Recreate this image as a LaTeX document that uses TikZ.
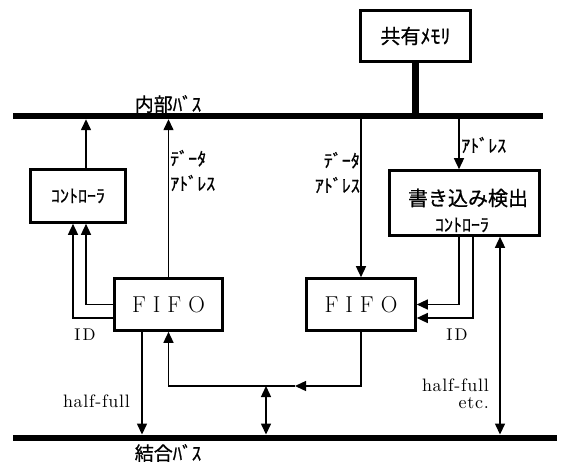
\documentclass[tikz,border=0pt]{standalone}
\usepackage{fontspec}
\usepackage{tikz}
\usetikzlibrary{arrows.meta}
\newfontfamily\jpfont[FakeBold=0.8]{Noto Sans CJK JP}
\newfontfamily\lmten{lmroman10-regular}[Extension=.otf]
\tikzset{
  blknode/.style={draw,line width=2.6pt,inner sep=0pt,
    font=\fontsize{18}{20}\selectfont\jpfont},
  busnode/.style={fill=black,inner sep=0pt,minimum height=6pt},
  jplabel/.style={font=\fontsize{18}{25}\selectfont\jpfont,inner sep=0pt},
  enlabel/.style={font=\lmten\fontsize{18}{17}\selectfont\addfontfeature{LetterSpace=4},inner sep=0pt},
  idlabel/.style={font=\lmten\fontsize{17}{17}\selectfont\addfontfeature{LetterSpace=12},inner sep=0pt},
  fifolbl/.style={font=\fontsize{23}{23}\selectfont},
  edgeA/.style={line width=1.4pt,-{Triangle[length=11pt,width=10pt]}},
  edgeB/.style={line width=1.4pt,{Triangle[length=11pt,width=10pt]}-{Triangle[length=11pt,width=10pt]}},
}
\begin{document}
\begin{tikzpicture}[x=1pt,y=-1pt]
  \useasboundingbox (0,0) rectangle (561,463);
  \node[busnode,minimum width=530pt] (ibus) at (278,116) {};
  \node[busnode,minimum width=544pt,minimum height=6.5pt] (cbus) at (285,438) {};
  \node[jplabel,font=\fontsize{19}{21}\selectfont\jpfont] (ibuslbl) at (168,104) {内部ﾊﾞｽ};
  \node[jplabel,font=\fontsize{19}{21}\selectfont\jpfont] (cbuslbl) at (168,453) {結合ﾊﾞｽ};
  \node[blknode,minimum width=110pt,minimum height=51pt,font=\fontsize{20}{22}\selectfont\jpfont] (mem) at (415.5,36) {共有ﾒﾓﾘ};
  \node[blknode,minimum width=95pt,minimum height=53pt] (ctl) at (78,196) {ｺﾝﾄﾛｰﾗ};
  \node[blknode,minimum width=108pt,minimum height=52pt,fifolbl] (fifoL) at (168.5,304.5) {F I F O};
  \node[blknode,minimum width=109pt,minimum height=52pt,fifolbl] (fifoR) at (361,304.5) {F I F O};
  \node[blknode,minimum width=150pt,minimum height=65pt] (det) at (464.5,203) {};
  \node[jplabel,font=\fontsize{20}{22}\selectfont\jpfont] (detlbl) at (468,198) {書き込み検出};
  \node[jplabel] (detsub) at (462,225) {ｺﾝﾄﾛｰﾗ};
  \draw[line width=7pt] (mem.south) -- (mem.south |- ibus.north);
  \draw[edgeA] ([xshift=8pt]ctl.north) -- ([xshift=8pt]ctl.north |- ibus.south);
  \draw[edgeA] (fifoL.west) -| ([xshift=8pt]ctl.south);
  \draw[edgeA] ([yshift=-13.5pt]fifoL.west) -| ([xshift=-5pt]ctl.south);
  \draw[edgeA] (fifoL.north) -- (fifoL.north |- ibus.south);
  \node[jplabel,anchor=west,align=left] (dataL) at (170,170.5) {ﾃﾞｰﾀ\\ｱﾄﾞﾚｽ};
  \draw[edgeA] (fifoR.north |- ibus.south) -- (fifoR.north);
  \node[jplabel,anchor=east,align=right] (dataR) at (360,172.5) {ﾃﾞｰﾀ\\ｱﾄﾞﾚｽ};
  \draw[edgeA] ([xshift=-5.5pt]det.north |- ibus.south) -- ([xshift=-5.5pt]det.north);
  \node[jplabel,anchor=west] (adrR) at (461,145) {ｱﾄﾞﾚｽ};
  \draw[edgeA] ([xshift=-5.5pt]det.south) |- (fifoR.east);
  \draw[edgeA] ([xshift=8.5pt]det.south) |- ([yshift=-13.5pt]fifoR.east);
  \node[idlabel] (idL) at (85,335) {ID};
  \node[idlabel] (idR) at (457,335) {ID};
  \draw[edgeA] ([xshift=-26.5pt]fifoL.south) -- ([xshift=-26.5pt]fifoL.south |- cbus.north);
  \node[enlabel,anchor=base east] (hfL) at (130,407) {half-full};
  \coordinate (turn) at (295,386);
  \coordinate (tap) at (266,386);
  \draw[edgeA] (fifoR.south) |- (turn);
  \draw[edgeA] (turn) -| (fifoL.south);
  \draw[edgeB] (tap) -- (tap |- cbus.north);
  \draw[edgeB] ([xshift=35.5pt]det.south) -- ([xshift=35.5pt]det.south |- cbus.north);
  \node[enlabel,anchor=north east,align=right] (hfR) at (489,379) {half-full\\etc.};
\end{tikzpicture}
\end{document}
